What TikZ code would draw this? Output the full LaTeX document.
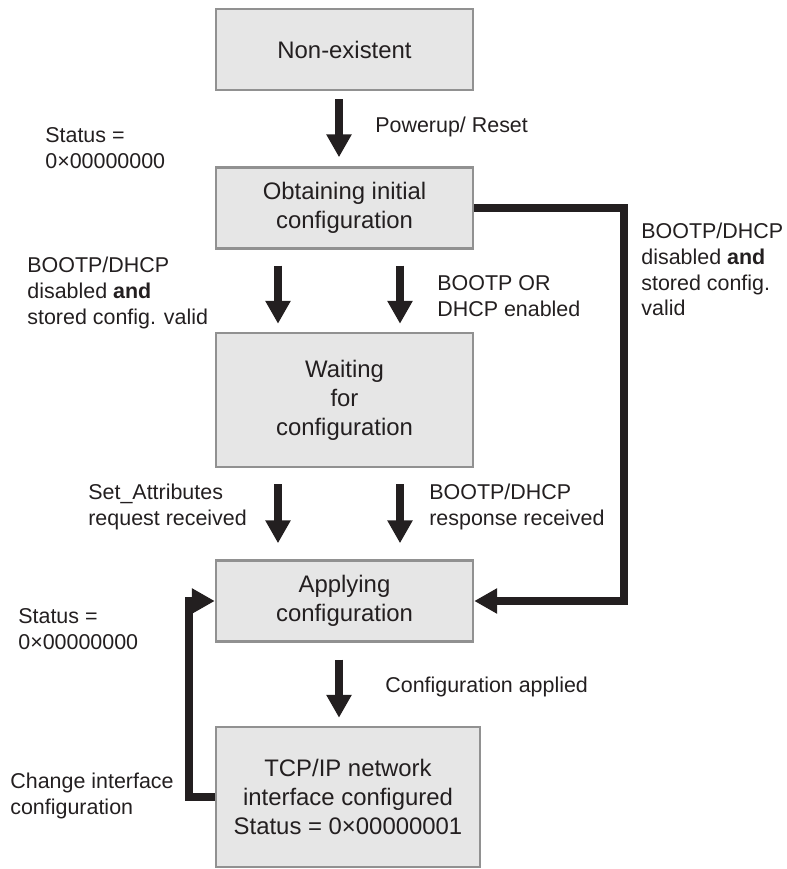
\documentclass[tikz,border=0pt]{standalone}
\usepackage{fontspec}
\setmainfont{Liberation Sans}
\usepackage{tikz}
\usetikzlibrary{arrows.meta}
\definecolor{boxfill}{RGB}{230,230,230}
\definecolor{boxgray}{RGB}{145,145,145}
\definecolor{arrowc}{RGB}{35,31,32}

\begin{document}
\begin{tikzpicture}[
    state/.style={draw=boxgray, line width=1.4pt, fill=boxfill, text=arrowc, minimum width=5.14cm, minimum height=1.62cm, align=center, font=\fontsize{13.6}{16.5}\selectfont},
    lbl/.style={anchor=west, align=left, inner sep=0pt, text=arrowc, font=\fontsize{12.2}{14.7}\selectfont},
    flow/.style={draw=arrowc, line width=0.16cm, -{Triangle[length=0.46cm, width=0.48cm]}}
]
    \useasboundingbox (0,0) rectangle (15.72,-17.38);

    % States
    \node[state] (nonex) at (6.89,-0.99) {Non-existent};
    \node[state] (obtain) at (6.89,-4.16) {Obtaining initial\\configuration};
    \node[state, minimum height=2.68cm] (wait) at (6.89,-8.0) {Waiting\\for\\configuration};
    \node[state] (apply) at (6.89,-12.02) {Applying\\configuration};
    \node[state, minimum width=5.28cm, minimum height=2.8cm] (tcpip) at (6.96,-15.94) {TCP/IP network\\interface configured\\Status = 0×00000001};

    % Transitions down the chain
    \draw[flow, shorten <=0.16cm, shorten >=0.18cm] ([xshift=-0.11cm]nonex.south) -- ([xshift=-0.11cm]obtain.north);
    \draw[flow, shorten <=0.32cm, shorten >=0.16cm] ([xshift=-1.33cm]obtain.south) -- ([xshift=-1.33cm]wait.north);
    \draw[flow, shorten <=0.32cm, shorten >=0.16cm] ([xshift=1.11cm]obtain.south) -- ([xshift=1.11cm]wait.north);
    \draw[flow, shorten <=0.32cm, shorten >=0.32cm] ([xshift=-1.33cm]wait.south) -- ([xshift=-1.33cm]apply.north);
    \draw[flow, shorten <=0.32cm, shorten >=0.32cm] ([xshift=1.11cm]wait.south) -- ([xshift=1.11cm]apply.north);
    \draw[flow, shorten <=0.34cm, shorten >=0.16cm] ([xshift=-0.11cm]apply.south) -- ([xshift=-0.11cm]apply.south |- tcpip.north);

    % Bypass and loop back
    \draw[flow] (obtain.east) -- ++(3.0,0) |- (apply.east);
    \draw[flow] (tcpip.west) -- ++(-0.52,0) |- (apply.west);

    % Labels
    \node[lbl] (powerup) at (7.5,-2.54) {Powerup/ Reset};
    \node[lbl] (status1) at (0.9,-2.96) {Status =\\0×00000000};
    \node[lbl] (stored) at (0.54,-5.86) {BOOTP/DHCP\\disabled \textbf{and}\\stored config. valid};
    \node[lbl] (enabled) at (8.74,-5.93) {BOOTP OR\\DHCP enabled};
    \node[lbl] (bypass) at (12.82,-5.39) {BOOTP/DHCP\\disabled \textbf{and}\\stored config.\\valid};
    \node[lbl] (setattr) at (1.76,-10.14) {Set\_Attributes\\request received};
    \node[lbl] (response) at (8.58,-10.14) {BOOTP/DHCP\\response received};
    \node[lbl] (status2) at (0.36,-12.59) {Status =\\0×00000000};
    \node[lbl] (applied) at (7.7,-13.74) {Configuration applied};
    \node[lbl] (change) at (0.2,-15.92) {Change interface\\configuration};
\end{tikzpicture}
\end{document}
